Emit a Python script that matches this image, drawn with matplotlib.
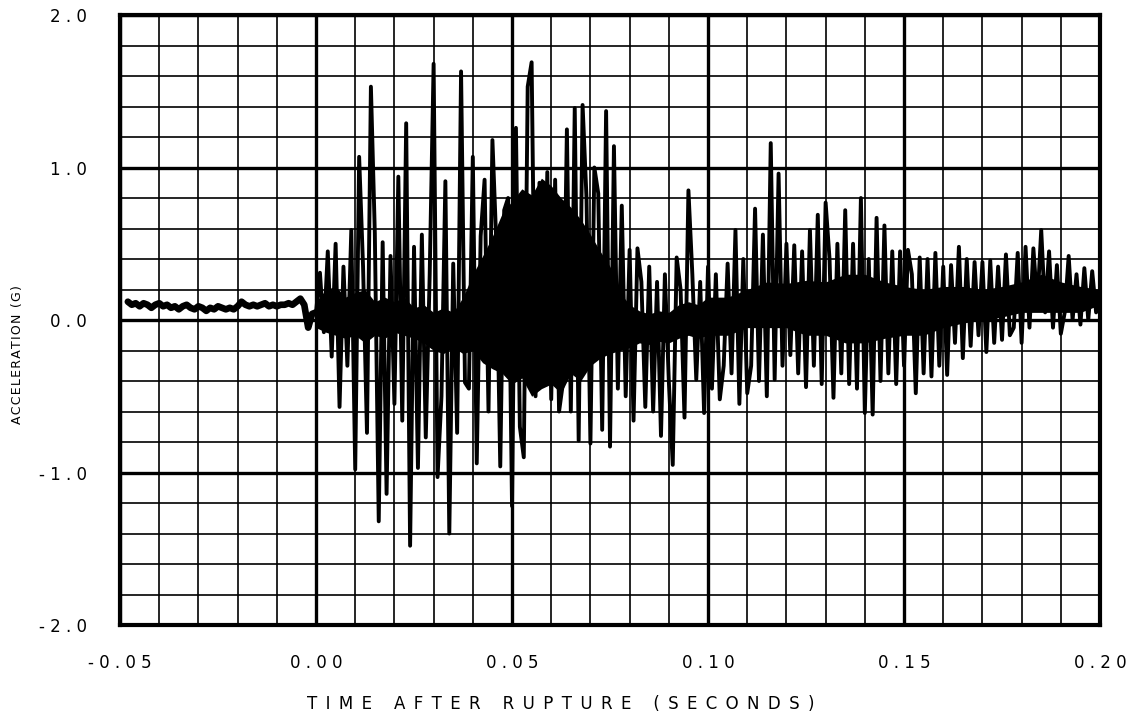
import matplotlib.pyplot as plt
import numpy as np

# accelerometer record sampled every millisecond, from -48 ms to 200 ms
time_ms = list(range(-48, 201))
accel_g = [
    # -48 .. -1 ms, before rupture
    0.12, 0.10, 0.11, 0.09, 0.11, 0.10, 0.08, 0.10, 0.11, 0.09, 0.10, 0.08,
    0.09, 0.07, 0.09, 0.10, 0.08, 0.07, 0.09, 0.08, 0.06, 0.08, 0.07, 0.09,
    0.08, 0.07, 0.08, 0.07, 0.09, 0.12, 0.10, 0.09, 0.10, 0.09, 0.10, 0.11,
    0.09, 0.10, 0.09, 0.10, 0.10, 0.11, 0.10, 0.12, 0.14, 0.10, -0.05, 0.04,
    # 0 .. 49 ms
    0.05, 0.31, -0.08, 0.45, -0.24, 0.50, -0.57, 0.35, -0.30, 0.59,
    -0.98, 1.07, 0.35, -0.74, 1.53, 0.57, -1.32, 0.51, -1.14, 0.42,
    -0.55, 0.94, -0.66, 1.29, -1.48, 0.48, -0.97, 0.56, -0.77, 0.30,
    1.68, -1.03, -0.50, 0.91, -1.40, 0.37, -0.74, 1.63, -0.41, -0.45,
    1.07, -0.94, 0.55, 0.92, -0.60, 1.18, 0.50, -0.96, 0.72, 0.80,
    # 50 .. 99 ms
    -1.22, 1.26, -0.70, -0.90, 1.53, 1.69, -0.50, 0.90, -0.39, 0.97,
    -0.52, 0.92, -0.60, -0.41, 1.25, -0.60, 1.39, -0.79, 1.41, 0.80,
    -0.81, 1.00, 0.83, -0.72, 1.37, -0.83, 1.14, -0.45, 0.75, -0.50,
    0.46, -0.66, 0.47, 0.25, -0.57, 0.35, -0.60, 0.25, -0.76, 0.30,
    -0.40, -0.95, 0.41, 0.20, -0.64, 0.85, 0.30, -0.39, 0.25, -0.61,
    # 100 .. 149 ms
    0.35, -0.45, 0.30, -0.52, -0.30, 0.37, -0.35, 0.59, -0.55, 0.40,
    -0.48, -0.30, 0.73, -0.40, 0.56, -0.50, 1.16, -0.39, 0.96, -0.30,
    0.50, -0.23, 0.49, -0.35, 0.45, -0.44, 0.59, -0.30, 0.69, -0.42,
    0.77, 0.40, -0.51, 0.50, -0.35, 0.72, -0.42, 0.50, -0.45, 0.80,
    -0.61, 0.40, -0.62, 0.67, -0.40, 0.62, -0.35, 0.45, -0.42, 0.45,
    # 150 .. 200 ms
    -0.30, 0.46, 0.30, -0.48, 0.41, -0.35, 0.40, -0.37, 0.44, -0.30,
    0.35, -0.36, 0.36, -0.15, 0.48, -0.25, 0.40, -0.17, 0.38, -0.10,
    0.38, -0.21, 0.39, -0.15, 0.35, -0.13, 0.43, -0.10, -0.05, 0.44,
    -0.15, 0.48, -0.05, 0.47, 0.10, 0.59, 0.05, 0.45, -0.05, 0.36,
    -0.09, 0.05, 0.42, 0.00, 0.30, -0.03, 0.34, 0.00, 0.32, 0.05,
    0.20,
]

# solid band where the trace overlaps itself
core_ms = [0, 2.5, 5, 7.5, 10, 12.5, 15, 17.5, 20, 22.5, 25, 27.5, 30, 32.5,
           35, 37.5, 40, 42.5, 45, 47.5, 50, 52.5, 55, 57.5, 60, 62.5, 65, 67.5,
           70, 72.5, 75, 77.5, 80, 82.5, 85, 87.5, 90, 92.5, 95, 97.5, 100,
           105, 110, 115, 120, 125, 130, 135, 140, 145, 150, 155, 160, 165,
           170, 175, 180, 185, 190, 195, 200]
core_hi = [0.12, 0.20, 0.22, 0.15, 0.18, 0.20, 0.12, 0.15, 0.12, 0.15, 0.08,
           0.10, 0.05, 0.08, 0.05, 0.15, 0.30, 0.42, 0.55, 0.70, 0.78, 0.86,
           0.82, 0.93, 0.88, 0.80, 0.74, 0.66, 0.56, 0.45, 0.35, 0.18, 0.10,
           0.06, 0.04, 0.06, 0.05, 0.10, 0.12, 0.10, 0.15,
           0.15, 0.20, 0.25, 0.24, 0.26, 0.25, 0.30, 0.30, 0.25,
           0.22, 0.20, 0.22, 0.22, 0.20, 0.22, 0.25, 0.30, 0.25, 0.22, 0.20]
core_lo = [-0.05, -0.08, -0.10, -0.12, -0.10, -0.15, -0.10, -0.12, -0.08,
           -0.10, -0.12, -0.15, -0.20, -0.22, -0.18, -0.22, -0.20, -0.28,
           -0.32, -0.35, -0.42, -0.38, -0.50, -0.45, -0.42, -0.48, -0.35,
           -0.40, -0.30, -0.25, -0.22, -0.20, -0.18, -0.15, -0.16, -0.14,
           -0.15, -0.12, -0.10, -0.12, -0.10,
           -0.10, -0.05, -0.05, -0.05, -0.10, -0.10, -0.15, -0.15, -0.12,
           -0.10, -0.10, -0.05, -0.02, 0.00, 0.02, 0.05, 0.05, 0.05, 0.05, 0.10]

t = np.array(time_ms) / 1000.0
a = np.array(accel_g)
tc = np.array(core_ms) / 1000.0

fig = plt.figure(figsize=(11.28, 7.18), dpi=100)
ax = fig.add_axes([0.1064, 0.1295, 0.8688, 0.8496])
ax.set_xlim(-0.05, 0.20)
ax.set_ylim(-2.0, 2.0)

# plotter style grid: heavy lines at the labelled values, light ones between
for x in np.arange(-0.05, 0.2001, 0.01):
    major = abs(round(x / 0.05) * 0.05 - x) < 1e-9
    ax.axvline(x, color='black', lw=2.4 if major else 1.2, zorder=1)
for y in np.arange(-2.0, 2.001, 0.2):
    major = abs(round(y) - y) < 1e-9
    ax.axhline(y, color='black', lw=2.4 if major else 1.2, zorder=1)

quiet = t <= 0.0
ax.plot(t[quiet], a[quiet], color='black', lw=4.8, zorder=3,
        solid_joinstyle='round', solid_capstyle='round')
ax.fill_between(tc, core_lo, core_hi, color='black', lw=0, zorder=3)
ax.plot(t[t >= -0.002], a[t >= -0.002], color='black', lw=2.8, zorder=3,
        solid_joinstyle='round')

for s in ax.spines.values():
    s.set_linewidth(3)

xt = [-0.05, 0.00, 0.05, 0.10, 0.15, 0.20]
yt = [-2.0, -1.0, 0.0, 1.0, 2.0]
ax.set_xticks(xt)
ax.set_yticks(yt)
ax.set_xticklabels([' '.join('%.2f' % v) for v in xt], fontsize=12)
ax.set_yticklabels([' '.join('%.1f' % v) for v in yt], fontsize=12)
ax.tick_params(length=0)
ax.tick_params(axis='x', pad=21)
ax.tick_params(axis='y', pad=24)

fig.text(561 / 1128, 0.0195, '\u2002'.join('TIME AFTER RUPTURE (SECONDS)'),
         fontsize=12, ha='center', va='center')
fig.text(18 / 1128, 0.5056, '\u200a'.join('ACCELERATION (G)'), fontsize=9,
         rotation=90, ha='center', va='center')

fig.savefig('out.png', dpi=100, facecolor='white')
